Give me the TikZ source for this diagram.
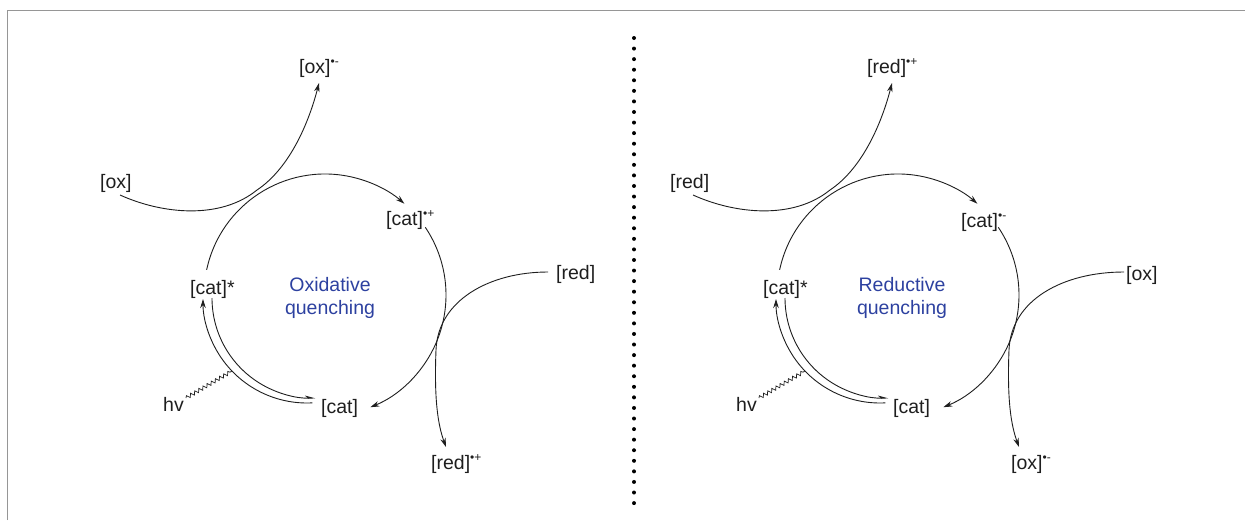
\documentclass[tikz,border=0pt]{standalone}
\usepackage{fontspec}
\setmainfont{Liberation Sans}
\usetikzlibrary{arrows.meta,decorations.pathmorphing}
\definecolor{ink}{RGB}{30,30,30}
\definecolor{qblue}{RGB}{45,65,160}
\definecolor{framegray}{RGB}{150,150,150}
\newcommand{\rad}[1]{\raisebox{8pt}{\fontsize{12}{12}\selectfont #1}}
\begin{document}
\begin{tikzpicture}[x=1pt,y=-1pt,
  lbl/.style={anchor=base west, inner sep=0pt, font=\fontsize{19.5}{23}\selectfont, text=ink},
  qlbl/.style={align=center, inner sep=0pt, font=\fontsize{19.5}{23.5}\selectfont, text=qblue},
  conn/.style={draw=ink, line width=0.9pt, -{Stealth[length=9pt,width=5.5pt]}},
  harp/.style={draw=ink, line width=0.9pt, -{Stealth[length=9pt,width=5.5pt,harpoon]}},
  wave/.style={draw=ink, line width=0.7pt, decorate, decoration={snake, amplitude=1.8pt, segment length=4.8pt}},
]
\useasboundingbox (0,0) rectangle (1245,520);
\draw[framegray, line width=1.5pt] (7.5,520) -- (7.5,10.5) -- (1245,10.5);
\foreach \i in {0,...,44} \fill[black] (634, 38+\i*10.57) circle (2pt);

% ---------- left panel: oxidative quenching ----------
\node[lbl] (LoxR)  at (299,73)  {[ox]\rad{\textbullet-}};
\node[lbl] (Lox)   at (100,188) {[ox]};
\node[lbl] (LcatP) at (386,225) {[cat]\rad{\textbullet+}};
\node[lbl] (Lred)  at (556,279) {[red]};
\node[lbl] (LcatS) at (190,294) {[cat]*};
\node[qlbl] (Lq)   at (330,298) {Oxidative\\quenching};
\node[lbl] (Lhv)   at (163,411) {hv};
\node[lbl] (Lcat)  at (321,413) {[cat]};
\node[lbl] (LredR) at (431,469) {[red]\rad{\textbullet+}};

\coordinate (Lc)  at (325,295);
\coordinate (Lo1) at (307,299);
\coordinate (Lo2) at (312,298);
\coordinate (Loxs) at (120,195);
\coordinate (Loxm) at (257,190);
\coordinate (Loxe) at (319,83);
\coordinate (Lreds) at (548,272);
\coordinate (Lredm) at (436,350);
\coordinate (Lrede) at (446,447);
\coordinate (Lhvs) at (186,398);
\coordinate (Lhve) at (232,371);

\draw[conn] ([shift={(192:121)}]Lc) arc[start angle=192, end angle=311, radius=121];
\draw[conn] ([shift={(326:121)}]Lc) arc[start angle=326, end angle=428, radius=121];
\draw[conn] ([shift={(87:104)}]Lo1) arc[start angle=87, end angle=180, radius=104];
\draw[harp] ([shift={(180:100)}]Lo2) arc[start angle=180, end angle=88, radius=100];
\draw[conn] (Loxs) .. controls (162,214) and (220,220) .. (Loxm) .. controls (290,168) and (309,122) .. (Loxe);
\draw[conn] (Lreds) .. controls (490,272) and (438,300) .. (Lredm) .. controls (434,400) and (438,425) .. (Lrede);
\draw[wave] (Lhvs) -- (Lhve);

% ---------- right panel: reductive quenching ----------
\node[lbl] (RredR) at (867,73)  {[red]\rad{\textbullet+}};
\node[lbl] (Rred)  at (670,188) {[red]};
\node[lbl] (RcatM) at (961,227) {[cat]\rad{\textbullet-}};
\node[lbl] (Rox)   at (1126,280) {[ox]};
\node[lbl] (RcatS) at (763,294) {[cat]*};
\node[qlbl] (Rq)   at (902,298) {Reductive\\quenching};
\node[lbl] (Rhv)   at (736,411) {hv};
\node[lbl] (Rcat)  at (893,413) {[cat]};
\node[lbl] (RoxR)  at (1011,469) {[ox]\rad{\textbullet-}};

\begin{scope}[xshift=573pt]
\coordinate (Rc)  at (325,295);
\coordinate (Ro1) at (307,299);
\coordinate (Ro2) at (312,298);
\coordinate (Rreds) at (120,195);
\coordinate (Rredm) at (257,190);
\coordinate (Rrede) at (319,83);
\coordinate (Roxs) at (551,272);
\coordinate (Roxm) at (436,350);
\coordinate (Roxe) at (446,447);
\coordinate (Rhvs) at (186,398);
\coordinate (Rhve) at (232,371);

\draw[conn] ([shift={(192:121)}]Rc) arc[start angle=192, end angle=311, radius=121];
\draw[conn] ([shift={(326:121)}]Rc) arc[start angle=326, end angle=428, radius=121];
\draw[conn] ([shift={(87:104)}]Ro1) arc[start angle=87, end angle=180, radius=104];
\draw[harp] ([shift={(180:100)}]Ro2) arc[start angle=180, end angle=88, radius=100];
\draw[conn] (Rreds) .. controls (162,214) and (220,220) .. (Rredm) .. controls (290,168) and (309,122) .. (Rrede);
\draw[conn] (Roxs) .. controls (490,272) and (438,300) .. (Roxm) .. controls (434,400) and (438,425) .. (Roxe);
\draw[wave] (Rhvs) -- (Rhve);
\end{scope}
\end{tikzpicture}
\end{document}
